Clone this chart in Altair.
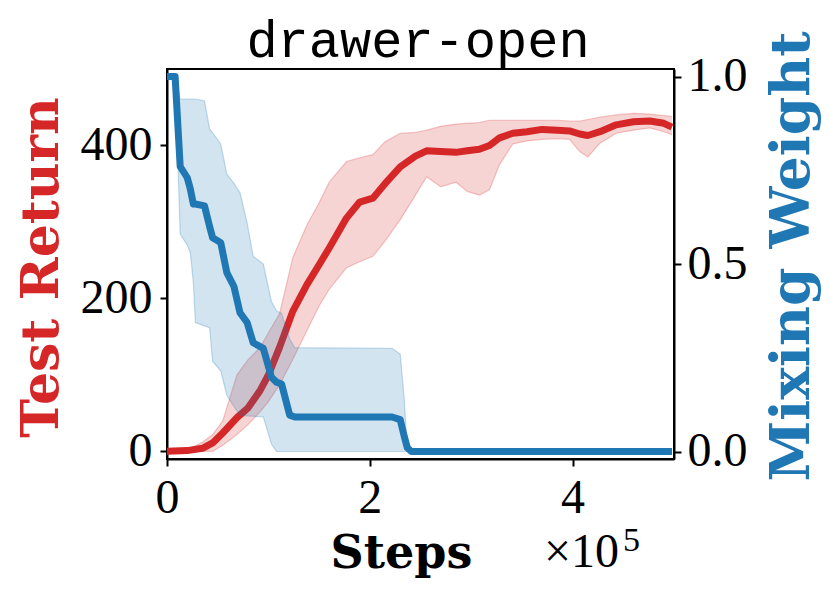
import altair as alt
import pandas as pd

RED = "#d62728"
BLUE = "#1f77b4"

# ---- data (steps in units of 1e5) ----
steps_red = [0, 0.2, 0.35, 0.45, 0.55, 0.69, 0.8, 0.92, 1.0, 1.11, 1.24, 1.38, 1.5, 1.6,
             1.77, 1.9, 2.03, 2.15, 2.3, 2.45, 2.56, 2.7, 2.85, 2.96, 3.08, 3.18, 3.28,
             3.41, 3.55, 3.7, 3.85, 3.97, 4.07, 4.15, 4.27, 4.43, 4.6, 4.76, 4.9, 4.98]
red_mean = [0, 1, 4, 11, 24, 44, 57, 80, 100, 136, 183, 218, 244, 266,
            305, 326, 331, 350, 372, 386, 393, 392, 391, 393, 395, 400, 410,
            416, 418, 421, 420, 419, 415, 413, 418, 427, 431, 432, 429, 424]
red_high = [0, 2, 12, 22, 40, 100, 120, 136, 155, 180, 253, 296, 325, 352,
            379, 384, 388, 405, 416, 417, 420, 425, 428, 429, 430, 433, 433,
            433, 433, 433, 433, 432, 432, 434, 437, 440, 442, 441, 439, 438]
red_low = [0, 0, 0, 0, 8, 22, 35, 52, 65, 87, 120, 158, 190, 212,
           240, 248, 255, 275, 303, 335, 359, 346, 352, 340, 335, 342, 375,
           402, 406, 408, 409, 408, 392, 385, 403, 416, 420, 423, 418, 414]

steps_blue = [0, 0.08, 0.13, 0.2, 0.23, 0.26, 0.28, 0.37, 0.42, 0.45, 0.53, 0.59, 0.66,
              0.72, 0.79, 0.85, 0.95, 1.03, 1.08, 1.13, 1.21, 1.26, 2.22, 2.30, 2.34,
              2.37, 2.41, 4.98]
blue_mean = [1.0, 1.0, 0.76, 0.73, 0.70, 0.66, 0.66, 0.655, 0.60, 0.57, 0.557, 0.477, 0.44,
             0.37, 0.344, 0.29, 0.275, 0.198, 0.185, 0.18, 0.097, 0.092, 0.092, 0.085, 0.04,
             0.01, 0.0, 0.0]
blue_high = [1.0, 1.0, 0.94, 0.94, 0.94, 0.94, 0.94, 0.935, 0.86, 0.85, 0.82, 0.74, 0.715,
             0.69, 0.61, 0.52, 0.50, 0.40, 0.375, 0.368, 0.30, 0.277, 0.275, 0.26, 0.14,
             0.0, 0.0, 0.0]
blue_low = [1.0, 1.0, 0.58, 0.55, 0.53, 0.45, 0.344, 0.335, 0.33, 0.24, 0.215, 0.15, 0.12,
            0.097, 0.095, 0.094, 0.092, 0.02, 0.0, 0.0, 0.0, 0.0, 0.0, 0.0, 0.0,
            0.0, 0.0, 0.0]

x_ticks = [0, 2, 4]
left_ticks = [0, 200, 400]
right_ticks = [0.0, 0.5, 1.0]
title_text = "drawer-open"
offset_text = "×10"
offset_exp = "5"

red_df = pd.DataFrame({"steps": steps_red, "mean": red_mean, "low": red_low, "high": red_high})
blue_df = pd.DataFrame({"steps": steps_blue, "mean": blue_mean, "low": blue_low, "high": blue_high})

TICK_FONT = "Liberation Serif"
TITLE_FONT = "DejaVu Serif"

x_axis = alt.Axis(values=x_ticks, title="Steps", labelPadding=8, labelFlush=False,
                  titleFont=TITLE_FONT, titleFontWeight="bold", titleFontSize=46,
                  titleColor="black", titleX=234, titleY=108, titleBaseline="alphabetic",
                  titleAlign="center")
x_enc = alt.X("steps:Q", scale=alt.Scale(domain=[0, 5], nice=False, zero=False), axis=x_axis)

left_axis = alt.Axis(values=left_ticks, orient="left", title="Test Return", labelPadding=8,
                     titleFont=TITLE_FONT, titleFontWeight="bold", titleFontSize=52,
                     titleColor=RED, titleAngle=270, titleX=-110, titleY=198,
                     titleBaseline="alphabetic", titleAlign="center")
left_scale = alt.Scale(domain=[-10, 500], nice=False, zero=False)

right_axis = alt.Axis(values=right_ticks, orient="right", format=".1f", title="Mixing Weight",
                      labelPadding=6, titleFont=TITLE_FONT, titleFontWeight="bold",
                      titleFontSize=55, titleColor=BLUE, titleAngle=270, titleX=134,
                      titleY=187, titleBaseline="alphabetic", titleAlign="center")
right_scale = alt.Scale(domain=[-0.02, 1.02], nice=False, zero=False)


def group(df, color, scale, axis):
    base = alt.Chart(df)
    band = base.mark_area(color=color, opacity=0.2).encode(
        x=x_enc, y=alt.Y("low:Q", scale=scale, axis=axis), y2="high:Q")
    lo = base.mark_line(color=color, opacity=0.25, strokeWidth=1.2).encode(
        x=x_enc, y=alt.Y("low:Q", scale=scale, axis=axis))
    hi = base.mark_line(color=color, opacity=0.25, strokeWidth=1.2).encode(
        x=x_enc, y=alt.Y("high:Q", scale=scale, axis=axis))
    mean = base.mark_line(color=color, strokeWidth=7, strokeJoin="round", strokeCap="butt").encode(
        x=x_enc, y=alt.Y("mean:Q", scale=scale, axis=axis))
    return alt.layer(band, lo, hi, mean)


red = group(red_df, RED, left_scale, left_axis)
blue = group(blue_df, BLUE, right_scale, right_axis)

txt_df = pd.DataFrame({"title": [title_text], "a": [offset_text], "b": [offset_exp]})
title = alt.Chart(txt_df).mark_text(font="Liberation Mono", fontSize=52, align="center",
                                    baseline="alphabetic", color="black").encode(
    x=alt.value(251), y=alt.value(-12), text="title:N")
times = alt.Chart(txt_df).mark_text(font=TICK_FONT, fontSize=48, align="right",
                                    baseline="alphabetic", color="black").encode(
    x=alt.value(452), y=alt.value(498), text="a:N")
sup = alt.Chart(txt_df).mark_text(font=TICK_FONT, fontSize=34, align="left",
                                  baseline="alphabetic", color="black").encode(
    x=alt.value(456), y=alt.value(482), text="b:N")

chart = alt.layer(red, blue, title, times, sup).resolve_scale(y="independent").properties(
    width=507, height=390,
    autosize=alt.AutoSizeParams(type="none"),
    padding={"left": 159, "top": 61, "right": 148, "bottom": 132},
).configure_view(stroke="black", strokeWidth=2).configure_axis(
    grid=False, domainColor="black", domainWidth=2, tickColor="black", tickWidth=2,
    tickSize=7, labelFont=TICK_FONT, labelFontSize=48, labelColor="black",
)

chart.save("out.html", embed_options={"renderer": "svg", "actions": False})
